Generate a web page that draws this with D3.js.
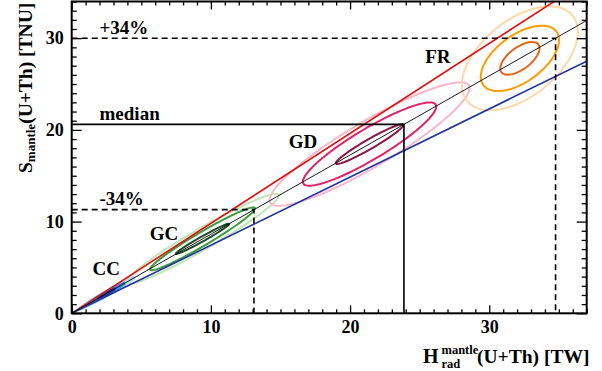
<!DOCTYPE html>
<html>
<head>
<meta charset="utf-8">
<script src="https://cdn.jsdelivr.net/npm/d3@7"></script>
<style>
  body { margin: 0; background: #fff; }
  svg text { font-family: "Liberation Serif", "Times New Roman", serif; font-weight: bold; fill: #000; }
</style>
</head>
<body>
<script>
// S/H slopes of the reference lines
const medianSlope = 0.863;
const upperSlope = 0.981;
const lowerSlope = 0.743;

// guide levels [TNU]
const levelNames = ["-34%", "median", "+34%"];
const levelS = [11.3, 20.6, 30.0];
const levelDashed = [true, false, true];

// models and their contours (outer, middle, inner)
const models = ["CC", "GC", "GD", "FR"];
const centerH = [2.5, 9.4, 21.4, 32.2];
const centerS = [2.16, 8.12, 18.45, 27.8];
const labelH = [1.5, 5.6, 15.6, 25.4];
const labelS = [4.2, 8.0, 18.0, 27.3];
// H half-extent, S shift at the H ends, S half-width at centre
const contourA = [[2.0, 1.3, 0.6], [5.5, 3.77, 1.92], [7.18, 4.79, 2.42], [4.17, 2.81, 1.41]];
const contourC = [[1.73, 1.12, 0.52], [4.75, 3.32, 1.63], [6.1, 4.1, 2.08], [2.9, 2.0, 1.1]];
const contourB = [[0.3, 0.2, 0.08], [1.3, 0.85, 0.3], [2.85, 1.95, 0.6], [4.86, 2.95, 1.4]];
const contourColors = [
  ["#a9d6f3", "#3c8fe0", "#1a3a9a"],
  ["#bfe4b6", "#3a9c3c", "#1c4a26"],
  ["#f6b8cb", "#e0236b", "#86184a"],
  ["#fdd8a8", "#ff9c00", "#e0661c"]
];

const xMajor = [0, 10, 20, 30];
const yMajor = [0, 10, 20, 30];

const width = 602, height = 371;
const margin = {top: 1.5, left: 71.7, right: 15.3, bottom: 57.7};

const x = d3.scaleLinear().domain([0, 37]).range([margin.left, width - margin.right]);
const y = d3.scaleLinear().domain([0, 34]).range([height - margin.bottom, margin.top]);

const svg = d3.select("body").append("svg")
  .attr("width", width)
  .attr("height", height);

svg.append("clipPath").attr("id", "plot")
  .append("rect")
  .attr("x", x(0)).attr("y", y(34))
  .attr("width", x(37) - x(0)).attr("height", y(0) - y(34));

const plot = svg.append("g").attr("clip-path", "url(#plot)");

// contours
const line = d3.line().x(d => x(d[0])).y(d => y(d[1])).curve(d3.curveLinearClosed);
models.forEach((m, i) => {
  [0, 1, 2].forEach(j => {
    const a = contourA[i][j], c = contourC[i][j], b = contourB[i][j];
    const pts = d3.range(0, 360, 3).map(deg => {
      const t = deg * Math.PI / 180;
      return [centerH[i] + a * Math.cos(t), centerS[i] + c * Math.cos(t) + b * Math.sin(t)];
    });
    plot.append("path")
      .attr("d", line(pts))
      .attr("fill", "none")
      .attr("stroke", contourColors[i][j])
      .attr("stroke-width", i === 0 ? 2.5 : 2);
  });
});

// bound and median lines
[[upperSlope, "#e01010", 1.6], [lowerSlope, "#23349a", 1.6], [medianSlope, "#000", 0.9]].forEach(([k, col, w]) => {
  plot.append("line")
    .attr("x1", x(0)).attr("y1", y(0))
    .attr("x2", x(37)).attr("y2", y(37 * k))
    .attr("stroke", col)
    .attr("stroke-width", w);
});

// guide levels
levelS.forEach((s, i) => {
  const h = s / medianSlope;
  svg.append("path")
    .attr("d", `M${x(0)},${y(s)}H${x(h)}V${y(0)}`)
    .attr("fill", "none")
    .attr("stroke", "#000")
    .attr("stroke-width", 1.6)
    .attr("stroke-dasharray", levelDashed[i] ? "6,4" : null);
  svg.append("text")
    .attr("x", x(2.0))
    .attr("y", y(s) - 4.5)
    .style("font-size", "19px")
    .text(levelNames[i]);
});

// model labels
models.forEach((m, i) => {
  svg.append("text")
    .attr("x", x(labelH[i]))
    .attr("y", y(labelS[i]))
    .style("font-size", "19px")
    .text(m);
});

// axes with inward ticks
function styleAxis(g) {
  g.select(".domain").remove();
  g.selectAll("line").attr("stroke", "#000").attr("stroke-width", 1.3);
  g.selectAll("text")
    .attr("fill", "#000")
    .style("font-size", "18px")
    .style("font-family", "'Liberation Serif', serif")
    .style("font-weight", "bold");
}

const xMinor = d3.range(0, 38).filter(v => !xMajor.includes(v));
const yMinor = d3.range(0, 35).filter(v => !yMajor.includes(v));

svg.append("g").attr("transform", `translate(0,${y(0)})`)
  .call(d3.axisBottom(x).tickValues(xMajor).tickSize(-8).tickPadding(7).tickFormat(d3.format("d")))
  .call(styleAxis);
svg.append("g").attr("transform", `translate(0,${y(0)})`)
  .call(d3.axisBottom(x).tickValues(xMinor).tickSize(-4).tickFormat(""))
  .call(styleAxis);
svg.append("g").attr("transform", `translate(0,${y(34)})`)
  .call(d3.axisTop(x).tickValues(xMajor).tickSize(-8).tickFormat(""))
  .call(styleAxis);
svg.append("g").attr("transform", `translate(0,${y(34)})`)
  .call(d3.axisTop(x).tickValues(xMinor).tickSize(-4).tickFormat(""))
  .call(styleAxis);

svg.append("g").attr("transform", `translate(${x(0)},0)`)
  .call(d3.axisLeft(y).tickValues(yMajor).tickSize(-10).tickPadding(8).tickFormat(d3.format("d")))
  .call(styleAxis);
svg.append("g").attr("transform", `translate(${x(0)},0)`)
  .call(d3.axisLeft(y).tickValues(yMinor).tickSize(-5).tickFormat(""))
  .call(styleAxis);
svg.append("g").attr("transform", `translate(${x(37)},0)`)
  .call(d3.axisRight(y).tickValues(yMajor).tickSize(-10).tickFormat(""))
  .call(styleAxis);
svg.append("g").attr("transform", `translate(${x(37)},0)`)
  .call(d3.axisRight(y).tickValues(yMinor).tickSize(-5).tickFormat(""))
  .call(styleAxis);

// frame
svg.append("rect")
  .attr("x", x(0)).attr("y", y(34))
  .attr("width", x(37) - x(0)).attr("height", y(0) - y(34))
  .attr("fill", "none")
  .attr("stroke", "#000")
  .attr("stroke-width", 2);

// axis titles
const xt = svg.append("g");
xt.append("text").attr("x", 423).attr("y", 363).style("font-size", "20px").text("H");
xt.append("text").attr("x", 441.5).attr("y", 354).style("font-size", "12.5px").text("mantle");
xt.append("text").attr("x", 441.5).attr("y", 368).style("font-size", "12.5px").text("rad");
xt.append("text").attr("x", 477).attr("y", 363).style("font-size", "19.5px").text("(U+Th) [TW]");

const yt = svg.append("text")
  .attr("transform", "translate(31.5,173) rotate(-90)")
  .style("font-size", "19.5px");
yt.append("tspan").text("S");
yt.append("tspan").attr("dy", 3).style("font-size", "13px").text("mantle");
yt.append("tspan").attr("dy", -3).text("(U+Th) [TNU]");
</script>
</body>
</html>
